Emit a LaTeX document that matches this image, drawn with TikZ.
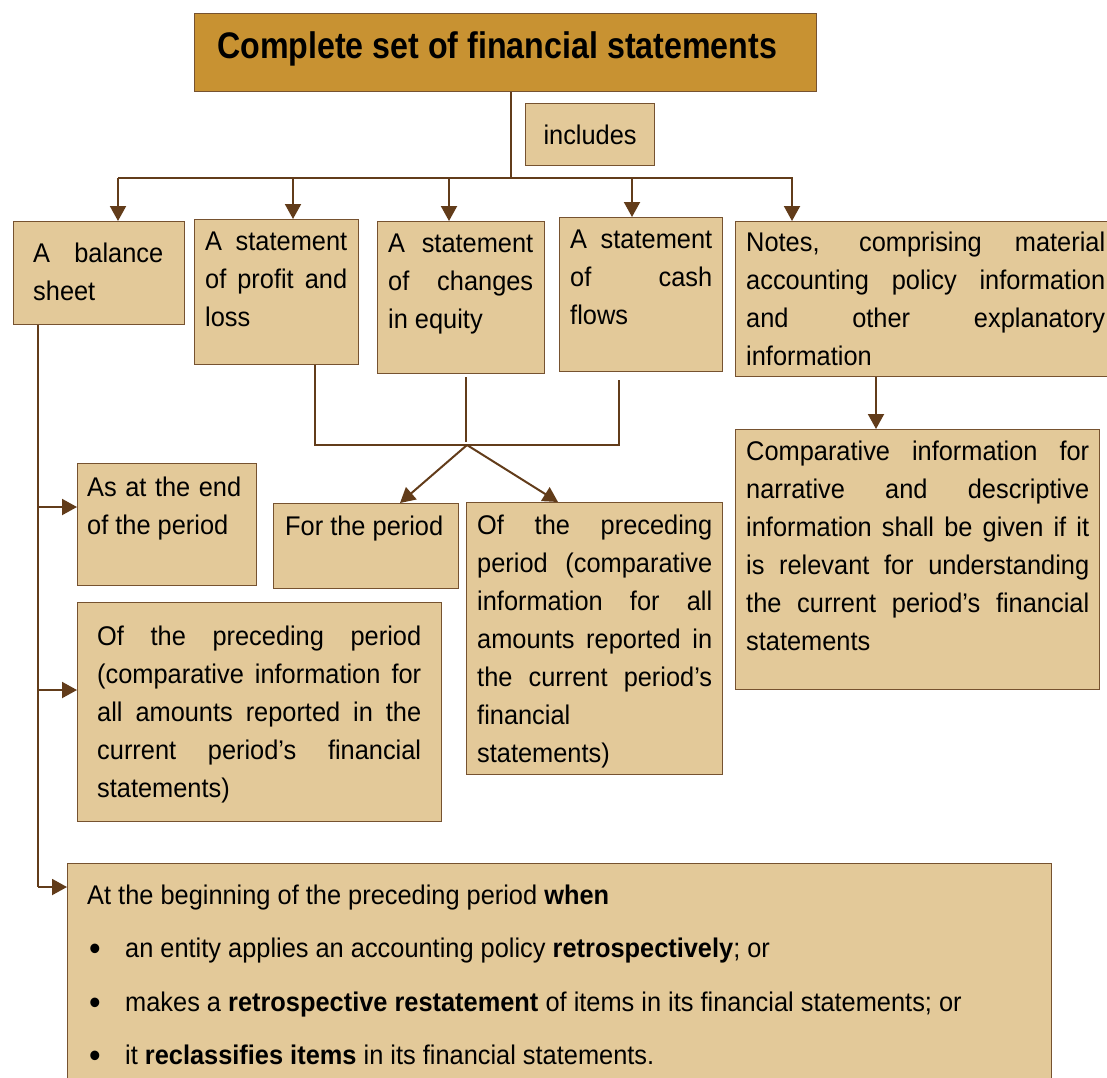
\documentclass[tikz,border=0pt]{standalone}
\usepackage{fontspec}
\setmainfont{Liberation Sans}[FakeStretch=0.94]
\newfontfamily\titlefont{Liberation Sans}[FakeStretch=0.87]
\usetikzlibrary{arrows.meta}

\definecolor{gold}{RGB}{200,146,50}
\definecolor{tan}{RGB}{227,201,153}
\definecolor{brn}{RGB}{98,60,26}
\definecolor{edge}{RGB}{118,82,48}

\tolerance=10000
\hyphenpenalty=10000
\exhyphenpenalty=10000

\newcommand{\boxtxt}[2]{\parbox[t]{#1}{\fontsize{27}{38}\selectfont #2}}
\newcommand{\bul}{\makebox[38pt][l]{\hspace{2pt}\raisebox{-3pt}{\scalebox{1.3}{\textbullet}}}}

\begin{document}
\begin{tikzpicture}[x=1pt, y=-1pt,
    box/.style={draw=edge, line width=1.2pt, fill=tan, anchor=north west, inner sep=0pt},
    txt/.style={anchor=base west, inner sep=0pt},
    ln/.style={draw=brn, line width=2pt},
    arr/.style={ln, -{Triangle[length=15pt, width=16pt]}}]
    \useasboundingbox (0,0) rectangle (1107,1077);

    % boxes
    \node[box, fill=gold, minimum width=622pt, minimum height=78pt] (title) at (194,13) {};
    \node[box, minimum width=129pt, minimum height=62pt] (incl) at (525,103) {};
    \node[box, minimum width=171pt, minimum height=103pt] (bal) at (13,221) {};
    \node[box, minimum width=164pt, minimum height=145pt] (pl) at (194,219) {};
    \node[box, minimum width=167pt, minimum height=152pt] (eq) at (377,221) {};
    \node[box, minimum width=163pt, minimum height=154pt] (cf) at (559,217) {};
    \node[box, minimum width=390pt, minimum height=155pt] (notes) at (735,221) {};
    \node[box, minimum width=179pt, minimum height=122pt] (eop) at (77,463) {};
    \node[box, minimum width=185pt, minimum height=85pt] (fp) at (273,503) {};
    \node[box, minimum width=256pt, minimum height=272pt] (opm) at (466,502) {};
    \node[box, minimum width=364pt, minimum height=219pt] (opl) at (77,602) {};
    \node[box, minimum width=364pt, minimum height=260pt] (comp) at (735,429) {};
    \node[box, minimum width=984pt, minimum height=240pt] (bop) at (67,863) {};

    % texts
    \node[txt] (title-t) at (217,58) {\titlefont\bfseries\fontsize{37}{44}\selectfont Complete set of financial statements};
    \node[inner sep=0pt] (incl-t) at (incl.center) {\fontsize{27}{38}\selectfont includes};
    \node[txt] (bal-t) at (33,262) {\boxtxt{130pt}{A balance sheet}};
    \node[txt] (pl-t) at (205,250) {\boxtxt{142pt}{A statement of profit and loss}};
    \node[txt] (eq-t) at (388,252) {\boxtxt{145pt}{A statement\linebreak of changes\linebreak in equity}};
    \node[txt] (cf-t) at (570,248) {\boxtxt{142pt}{A statement\linebreak of cash\linebreak flows}};
    \node[txt] (notes-t) at (746,251) {\boxtxt{359pt}{Notes, comprising material accounting policy information and other explanatory information}};
    \node[txt] (eop-t) at (87,496) {\boxtxt{154pt}{As at the end of the period}};
    \node[txt] (fp-t) at (285,535) {\boxtxt{165pt}{For the period}};
    \node[txt] (opm-t) at (477,534) {\boxtxt{235pt}{Of the preceding\linebreak period (comparative\linebreak information for all\linebreak amounts reported in\linebreak the current period’s\linebreak financial\newline statements)}};
    \node[txt] (opl-t) at (97,645) {\boxtxt{324pt}{Of the preceding period\linebreak (comparative information for\linebreak all amounts reported in the\linebreak current period’s financial\linebreak statements)}};
    \node[txt] (comp-t) at (746,460) {\boxtxt{343pt}{Comparative information for\linebreak narrative and descriptive\linebreak information shall be given if it\linebreak is relevant for understanding\linebreak the current period’s financial\linebreak statements}};
    \node[txt] (bop-t) at (87,904) {\parbox[t]{950pt}{\fontsize{27}{53.5}\selectfont
        At the beginning of the preceding period \textbf{when}\\
        \bul an entity applies an accounting policy \textbf{retrospectively}; or\\
        \bul makes a \textbf{retrospective restatement} of items in its financial statements; or\\
        \bul it \textbf{reclassifies items} in its financial statements.}};

    % connectors from the title
    \coordinate (hub) at (511,178);
    \draw[ln] (hub |- title.south) -- (hub);
    \draw[ln] (118,178) -- (793,178);
    \foreach \x/\n in {118/bal, 293/pl, 449/eq, 632/cf, 792/notes}
        \draw[arr] (\x,178) -- (\x,178 |- \n.north);

    % profit and loss, equity, cash flows
    \coordinate (mid) at (467,445);
    \draw[ln] (315,0 |- pl.south) -- (315,445) -- (619,445) -- (619,380);
    \draw[ln] (466,377) -- (466,442);
    \draw[arr] (mid) -- (400,0 |- fp.north);
    \draw[arr] (mid) -- (558,0 |- opm.north);

    % balance sheet
    \draw[ln] (38,0 |- bal.south) -- (38,887);
    \draw[arr] (38,507) -- (38,507 -| eop.west);
    \draw[arr] (38,690) -- (38,690 -| opl.west);
    \draw[arr] (38,887) -- (38,887 -| bop.west);

    % notes
    \draw[arr] (876,0 |- notes.south) -- (876,0 |- comp.north);
\end{tikzpicture}
\end{document}
